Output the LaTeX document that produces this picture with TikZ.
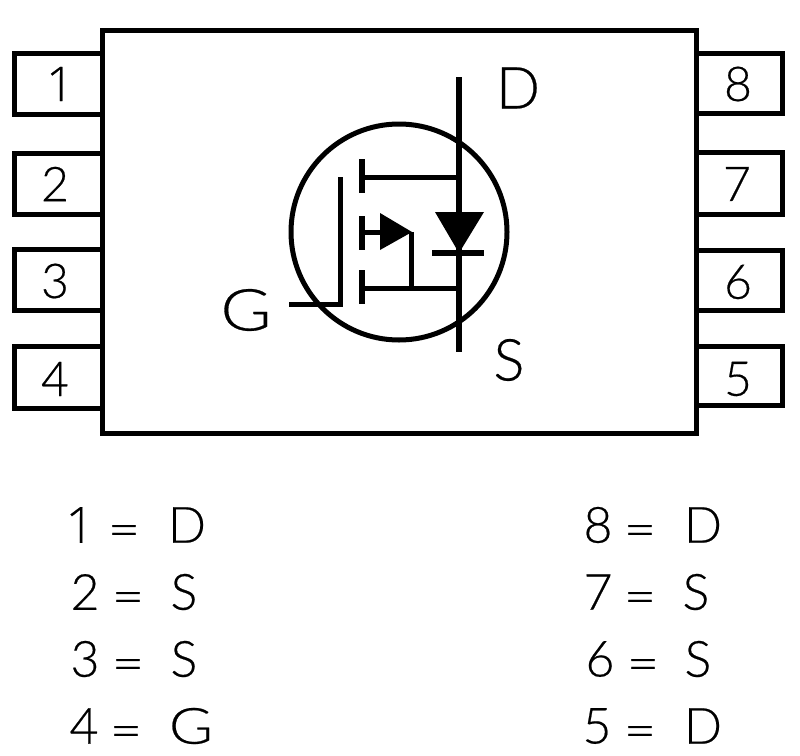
\documentclass[tikz,border=0pt]{standalone}
\usepackage{fontspec}
\setmainfont[FakeBold=0.4]{Lato Light}
\newfontfamily\onefont[FakeBold=0.4]{Open Sans Light}
\newcommand{\wideG}{\scalebox{1.2}[1]{G}}
\newcommand{\wideEq}{\scalebox{1.12}[1]{=}}
\tikzset{
  outline/.style={draw=black,line width=5pt,line join=miter},
  heavy/.style={draw=black,line width=6pt},
  medium/.style={draw=black,line width=5pt},
  solidtip/.style={fill=black,draw=none},
  pinnum/.style={inner sep=0pt,font=\fontsize{48}{48}\selectfont,text=black},
  term/.style={inner sep=0pt,font=\fontsize{58}{58}\selectfont,text=black},
  tabtxt/.style={inner sep=0pt,font=\fontsize{50}{50}\selectfont,text=black},
}
\begin{document}
\begin{tikzpicture}[x=1pt,y=-1pt]
\useasboundingbox (0,0) rectangle (800,755);
% package body and pins
\draw[outline] (102,30) rectangle (696,433);
\draw[outline] (102,53) -- (14,53) -- (14,114) -- (102,114);
\draw[outline] (102,153) -- (14,153) -- (14,214) -- (102,214);
\draw[outline] (102,249) -- (14,249) -- (14,310) -- (102,310);
\draw[outline] (102,346) -- (14,346) -- (14,408) -- (102,408);
\draw[outline] (696,53) -- (782,53) -- (782,113) -- (696,113);
\draw[outline] (696,152) -- (782,152) -- (782,214) -- (696,214);
\draw[outline] (696,250) -- (782,250) -- (782,310) -- (696,310);
\draw[outline] (696,346) -- (782,346) -- (782,405) -- (696,405);
% pin numbers
\node[pinnum] (p1) at (60,84) {\onefont 1};
\node[pinnum] (p2) at (55,184) {2};
\node[pinnum] (p3) at (55,281) {3};
\node[pinnum] (p4) at (55,379) {4};
\node[pinnum] (p8) at (738,84) {8};
\node[pinnum] (p7) at (737,184) {7};
\node[pinnum] (p6) at (738,282) {6};
\node[pinnum] (p5) at (738,379) {5};
% MOSFET symbol
\draw[medium] (399,232) circle (108);
\coordinate (dtop) at (459,77);
\coordinate (sbot) at (459,352);
\coordinate (dj) at (459,177);
\coordinate (sj) at (459,288);
\coordinate (gfree) at (289,304);
\coordinate (gcorner) at (340,304);
\coordinate (gtop) at (340,177);
\coordinate (bodyj) at (411,288);
\coordinate (bodyt) at (411,232);
\draw[heavy] (dtop) -- (sbot);
\draw[medium,line join=miter] (gfree) -- (gcorner) -- (gtop);
\draw[heavy] (362,159) -- (362,193);
\draw[heavy] (362,216) -- (362,250);
\draw[heavy] (362,270) -- (362,304);
\draw[medium] (362,177) -- (dj);
\draw[medium] (362,288) -- (sj);
\draw[medium] (362,232) -- (382,232);
\draw[solidtip] (380,213) -- (380,250) -- (412,232) -- cycle;
\draw[medium] (bodyt) -- (bodyj);
\draw[solidtip] (435,212) -- (484,212) -- (459,253) -- cycle;
\draw[heavy] (432,253) -- (484,253);
% terminal letters
\node[term] (D) at (518,88) {D};
\node[term] (S) at (509,360) {S};
\node[term] (G) at (246,310) {\wideG};
% pin table
\node[tabtxt] (a1) at (80,525) {\onefont 1};  \node[tabtxt] (e1) at (124,536) {\wideEq}; \node[tabtxt] (v1) at (187,525) {D};
\node[tabtxt] (a2) at (85,592) {2};  \node[tabtxt] (e2) at (128,603) {\wideEq}; \node[tabtxt] (v2) at (184,592) {S};
\node[tabtxt] (a3) at (85,659) {3};  \node[tabtxt] (e3) at (128,670) {\wideEq}; \node[tabtxt] (v3) at (184,659) {S};
\node[tabtxt] (a4) at (84,726) {4};  \node[tabtxt] (e4) at (126,737) {\wideEq}; \node[tabtxt] (v4) at (191,726) {\wideG};
\node[tabtxt] (a8) at (598,525) {8}; \node[tabtxt] (e8) at (640,536) {\wideEq}; \node[tabtxt] (v8) at (703,525) {D};
\node[tabtxt] (a7) at (598,592) {7}; \node[tabtxt] (e7) at (640,603) {\wideEq}; \node[tabtxt] (v7) at (696,592) {S};
\node[tabtxt] (a6) at (600,659) {6}; \node[tabtxt] (e6) at (643,670) {\wideEq}; \node[tabtxt] (v6) at (698,659) {S};
\node[tabtxt] (a5) at (597,726) {5}; \node[tabtxt] (e5) at (640,737) {\wideEq}; \node[tabtxt] (v5) at (703,726) {D};
\end{tikzpicture}
\end{document}
